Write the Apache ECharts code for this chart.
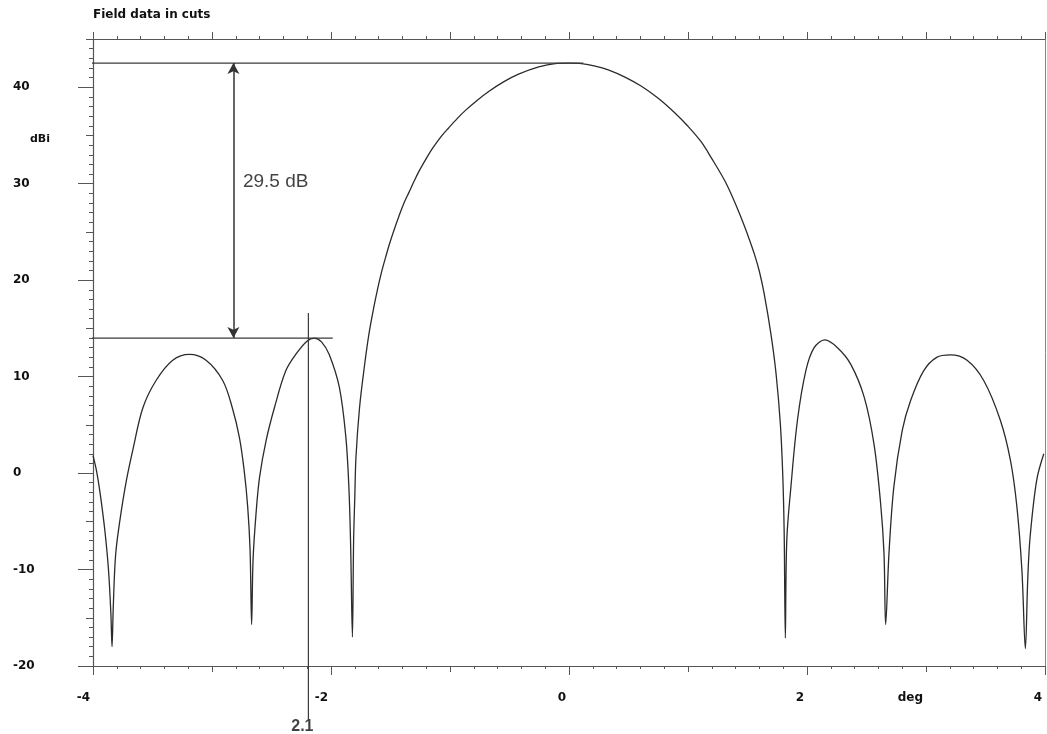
<!DOCTYPE html>
<html>
<head>
<meta charset="utf-8">
<script src="https://cdn.jsdelivr.net/npm/echarts@6/dist/echarts.min.js"></script>
<style>
html,body{margin:0;padding:0;background:#fff;}
#chart{width:1047px;height:734px;}
</style>
</head>
<body>
<div id="chart"></div>
<script>
// ---- data ----
var angleDeg = [-4.00,-3.97,-3.94,-3.90,-3.87,-3.85,-3.84,-3.83,-3.81,-3.774,-3.72,-3.66,-3.58,-3.47,-3.33,-3.19,-3.05,-2.91,-2.83,-2.77,-2.73,-2.70,-2.68,-2.667,-2.655,-2.63,-2.60,-2.545,-2.475,-2.38,-2.29,-2.20,-2.14,-2.08,-2.015,-1.93,-1.875,-1.85,-1.835,-1.82,-1.81,-1.80,-1.79,-1.76,-1.72,-1.68,-1.64,-1.61,-1.58,-1.545,-1.51,-1.47,-1.43,-1.39,-1.345,-1.30,-1.26,-1.20,-1.15,-1.08,-1.01,-0.94,-0.87,-0.77,-0.675,-0.55,-0.424,-0.255,-0.117,0.0,0.106,0.22,0.33,0.47,0.609,0.75,0.888,1.0,1.11,1.2,1.307,1.38,1.446,1.5,1.558,1.6,1.64,1.697,1.74,1.776,1.796,1.808,1.818,1.83,1.865,1.92,1.99,2.06,2.15,2.256,2.367,2.48,2.563,2.619,2.647,2.661,2.689,2.73,2.80,2.87,2.98,3.09,3.205,3.345,3.485,3.624,3.71,3.764,3.806,3.835,3.855,3.875,3.93,3.99];
var gainDbi = [1.8,0.2,-2.1,-6.0,-10.0,-14.5,-18.0,-14.0,-8.5,-4.9,-0.8,2.7,6.8,9.6,11.7,12.3,11.7,9.6,6.8,3.7,0.3,-3.5,-8.0,-15.7,-9.0,-4.2,-0.4,3.4,6.8,10.6,12.4,13.7,14.0,13.6,12.3,8.9,3.7,-1.4,-7.5,-17.0,-7.0,-2.5,1.7,6.8,11.0,14.5,17.2,19.0,20.6,22.2,23.7,25.2,26.6,27.9,29.1,30.3,31.3,32.6,33.6,34.8,35.8,36.75,37.6,38.65,39.55,40.55,41.35,42.1,42.45,42.5,42.45,42.2,41.8,41.05,40.1,38.85,37.35,35.95,34.35,32.6,30.35,28.45,26.5,24.75,22.7,20.9,18.6,14.4,10.3,5.1,-0.1,-6.0,-17.1,-7.0,-1.4,5.5,10.6,13.0,13.8,13.0,11.3,7.9,3.0,-3.2,-8.3,-15.7,-8.3,-1.4,4.4,7.5,10.6,12.0,12.25,11.7,9.6,5.5,1.3,-3.5,-10.1,-18.2,-11.0,-6.6,-0.75,2.0];

var xTickLabels = {'-4':'-4','-2':'-2','0':'0','2':'2','3':'deg','4':'4'};
var yTickLabels = [-20,-10,0,10,20,30,40];

var mainPeak = 42.5;          // main beam level
var sideLobePeak = 14.0;      // first side lobe level
var sideLobeAngle = -2.19;    // cursor position
var cursorLabel = '2.1';
var diffLabel = '29.5 dB';
var refTopSpan = [-4.22, 0.12];
var refSideSpan = [-4.28, -1.985];
var cursorSpan = [16.6, -25.6];
var arrowAngle = -2.82;
var diffLabelPos = [-2.74, 30.2];
var cursorLabelPos = [-2.19, -26.3];

var curve = angleDeg.map(function (a, i) { return [a, gainDbi[i]]; });

// ---- layout ----
var G_LEFT = 93, G_TOP = 39, G_BOTTOM_Y = 666, G_RIGHT = 2;
var Y_MIN = -20, Y_MAX = 45;
var unit = (G_BOTTOM_Y - G_TOP) / (Y_MAX - Y_MIN);
var g2Top = G_TOP + (Y_MAX - 40) * unit;

var axisCol = '#555';
var textCol = '#111';
var lblFont = {fontFamily: 'DejaVu Sans', fontWeight: 'bold', fontSize: 12, color: textCol};

var chart = echarts.init(document.getElementById('chart'), null, {renderer: 'canvas'});
chart.setOption({
  backgroundColor: '#ffffff',
  animation: false,
  graphic: [
    {type: 'text', left: 93, top: 9, style: {text: 'Field data in cuts', fill: textCol, font: 'bold 12px "DejaVu Sans"'}},
    {type: 'text', left: 30, top: 134, style: {text: 'dBi', fill: textCol, font: 'bold 11px "DejaVu Sans"'}}
  ],
  grid: [
    {left: G_LEFT, right: G_RIGHT, top: G_TOP, bottom: 734 - G_BOTTOM_Y},
    {left: G_LEFT, right: G_RIGHT, top: g2Top, bottom: 734 - G_BOTTOM_Y}
  ],
  xAxis: [
    {type: 'value', gridIndex: 0, position: 'bottom', min: -4, max: 4, interval: 1,
     axisLine: {show: true, onZero: false, lineStyle: {color: axisCol, width: 1.2}},
     axisTick: {show: true, length: 6, lineStyle: {color: axisCol}},
     minorTick: {show: true, splitNumber: 5, length: 3, lineStyle: {color: axisCol}},
     splitLine: {show: false}, minorSplitLine: {show: false},
     axisLabel: Object.assign({show: true, margin: 26, align: 'right', padding: [0, 3, 0, 0],
       showMinLabel: true, showMaxLabel: true,
       formatter: function (v) { var k = String(Math.round(v)); return xTickLabels.hasOwnProperty(k) ? xTickLabels[k] : ''; }}, lblFont)},
    {type: 'value', gridIndex: 0, position: 'bottom', min: -4, max: 4, interval: 2,
     axisLine: {show: false, onZero: false}, axisTick: {show: true, length: 9, lineStyle: {color: axisCol}},
     splitLine: {show: false}, axisLabel: {show: false}},
    {type: 'value', gridIndex: 0, position: 'top', min: -4, max: 4, interval: 1,
     axisLine: {show: true, onZero: false, lineStyle: {color: axisCol, width: 1.2}},
     axisTick: {show: true, length: 7, lineStyle: {color: axisCol}},
     minorTick: {show: true, splitNumber: 5, length: 3, lineStyle: {color: axisCol}},
     splitLine: {show: false}, axisLabel: {show: false}},
    {type: 'value', gridIndex: 1, min: -4, max: 4, show: false}
  ],
  yAxis: [
    {type: 'value', gridIndex: 0, position: 'left', min: Y_MIN, max: Y_MAX, interval: 5,
     axisLine: {show: true, onZero: false, lineStyle: {color: axisCol, width: 1.2}},
     axisTick: {show: true, length: 7, lineStyle: {color: axisCol}},
     minorTick: {show: true, splitNumber: 5, length: 4, lineStyle: {color: axisCol}},
     splitLine: {show: false}, axisLabel: {show: false}},
    {type: 'value', gridIndex: 0, position: 'right', min: Y_MIN, max: Y_MAX,
     axisLine: {show: true, onZero: false, lineStyle: {color: '#888', width: 1}},
     axisTick: {show: false}, splitLine: {show: false}, axisLabel: {show: false}},
    {type: 'value', gridIndex: 1, position: 'left', min: -20, max: 40, interval: 10,
     axisLine: {show: false, onZero: false},
     axisTick: {show: true, length: 15, lineStyle: {color: axisCol}},
     splitLine: {show: false},
     axisLabel: Object.assign({show: true, margin: 80, align: 'left', padding: [10, 0, 0, 0],
       formatter: function (v) { return yTickLabels.indexOf(v) >= 0 ? String(v) : ''; }}, lblFont)}
  ],
  series: [
    {type: 'line', xAxisIndex: 0, yAxisIndex: 0, data: curve, showSymbol: false, symbol: 'none',
     smooth: 0.35,
     lineStyle: {color: '#2b2b2b', width: 1.3},
     markLine: {silent: true, symbol: ['arrow', 'arrow'], symbolSize: [9, 11], precision: 3,
       label: {show: false}, lineStyle: {color: '#333', width: 1.5, type: 'solid'},
       data: [[{coord: [arrowAngle, mainPeak]}, {coord: [arrowAngle, sideLobePeak]}]]}},
    {type: 'line', xAxisIndex: 0, yAxisIndex: 0, clip: false, symbol: 'none', silent: true,
     data: [[refTopSpan[0], mainPeak], [refTopSpan[1], mainPeak]], lineStyle: {color: '#3a3a3a', width: 1.2}},
    {type: 'line', xAxisIndex: 0, yAxisIndex: 0, clip: false, symbol: 'none', silent: true,
     data: [[refSideSpan[0], sideLobePeak], [refSideSpan[1], sideLobePeak]], lineStyle: {color: '#3a3a3a', width: 1.2}},
    {type: 'line', xAxisIndex: 0, yAxisIndex: 0, clip: false, symbol: 'none', silent: true,
     data: [[sideLobeAngle, cursorSpan[0]], [sideLobeAngle, cursorSpan[1]]], lineStyle: {color: '#3a3a3a', width: 1.2}},
    {type: 'scatter', xAxisIndex: 0, yAxisIndex: 0, clip: false, symbolSize: 0, silent: true,
     data: [{value: diffLabelPos, label: {show: true, position: 'right', distance: 0, formatter: diffLabel,
       fontFamily: 'Liberation Sans', fontSize: 19, color: '#111'}},
       {value: cursorLabelPos, label: {show: true, position: 'inside', offset: [-6, 0], formatter: cursorLabel,
       fontFamily: 'Liberation Sans', fontWeight: 'bold', fontSize: 16, color: '#111'}}]}
  ]
});
</script>
</body>
</html>
